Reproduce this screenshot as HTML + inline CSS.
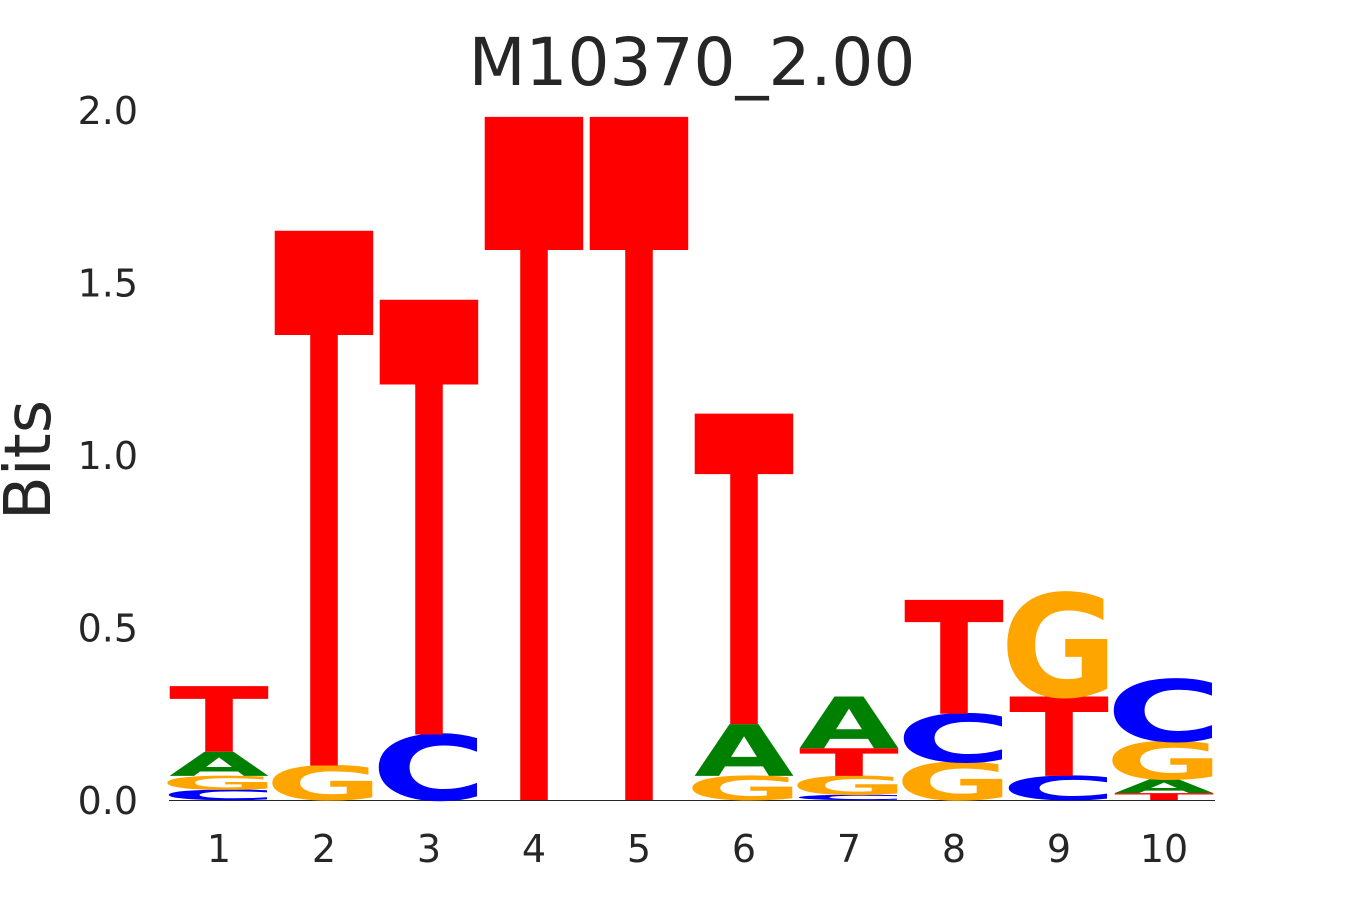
<!DOCTYPE html>
<html><head><meta charset="utf-8"><style>
html,body{margin:0;padding:0;background:#fff;overflow:hidden;width:1350px;height:900px;}
svg{display:block;}
text{font-family:"DejaVu Sans","Liberation Sans",sans-serif;}
</style></head><body>
<svg id="chart" width="1350" height="900" viewBox="0 0 1350 900">
<text x="692" y="85" text-anchor="middle" font-size="66" fill="#262626">M10370_2.00</text>
<text transform="translate(50,460) rotate(-90)" text-anchor="middle" font-size="64" fill="#262626">Bits</text>
<line x1="169" y1="800.5" x2="1215" y2="800.5" stroke="#262626" stroke-width="1"/>
<g id="yticks"></g><g id="xticks"></g><g id="letters"></g>
</svg>
<script>
const positions = [1,2,3,4,5,6,7,8,9,10];
// stacked letters per position, bottom to top
const stackLetters = [
 ["C","G","A","T"],
 ["G","T"],
 ["C","T"],
 ["T"],
 ["T"],
 ["G","A","T"],
 ["C","G","T","A"],
 ["G","C","T"],
 ["C","T","G"],
 ["T","A","G","C"]
];
const stackHeights = [
 [0.03,0.04,0.07,0.19],
 [0.10,1.55],
 [0.19,1.26],
 [1.98],
 [1.98],
 [0.07,0.15,0.90],
 [0.015,0.055,0.08,0.15],
 [0.11,0.14,0.33],
 [0.07,0.23,0.30],
 [0.02,0.04,0.11,0.18]
];
const yTickValues = [0,0.5,1,1.5,2];
const yTickLabels = ["0.0","0.5","1.0","1.5","2.0"];
const colors = {A:"#008000",C:"#0000ff",G:"#ffa500",T:"#ff0000"};
const inkFrac = {A:1.0,C:0.86,G:0.85,T:1.0};
const NS="http://www.w3.org/2000/svg";
const y0=800, pxPerBit=345;
function yScale(v){return y0 - v*pxPerBit;}
function xScale(p){return 219 + (p-1)*105;}
const colW=100;
const yt=document.getElementById('yticks');
yTickValues.forEach((v,i)=>{
  const t=document.createElementNS(NS,'text');
  
  
  t.setAttribute('x',138);t.setAttribute('y',yScale(v)+14);
  t.setAttribute('text-anchor','end');t.setAttribute('font-size','38');t.setAttribute('fill','#262626');
  t.textContent=yTickLabels[i];yt.appendChild(t);
});
const xt=document.getElementById('xticks');
positions.forEach(p=>{
  const t=document.createElementNS(NS,'text');
  
  
  t.setAttribute('x',xScale(p));t.setAttribute('y',862);
  t.setAttribute('text-anchor','middle');t.setAttribute('font-size','38');t.setAttribute('fill','#262626');
  t.textContent=String(p);xt.appendChild(t);
});
const lg=document.getElementById('letters');
positions.forEach((p,i)=>{
  let base=0;
  stackLetters[i].forEach((L,j)=>{
    const h=stackHeights[i][j];
    const bottom=yScale(base), top=yScale(base+h);
    const ph=bottom-top;
    const w=colW/inkFrac[L];
    const left=xScale(p)-w/2;
    const t=document.createElementNS(NS,'text');
    
    
    t.setAttribute('x',0);t.setAttribute('y',0);
    t.setAttribute('font-size','100');t.setAttribute('font-weight','bold');
    t.setAttribute('textLength',w);t.setAttribute('lengthAdjust','spacingAndGlyphs');
    t.setAttribute('fill',colors[L]);
    t.setAttribute('transform','translate('+left+','+bottom+') scale(1,'+(ph/72.9)+')');
    t.textContent=L;lg.appendChild(t);
    base+=h;
  });
});
</script>
</body></html>
